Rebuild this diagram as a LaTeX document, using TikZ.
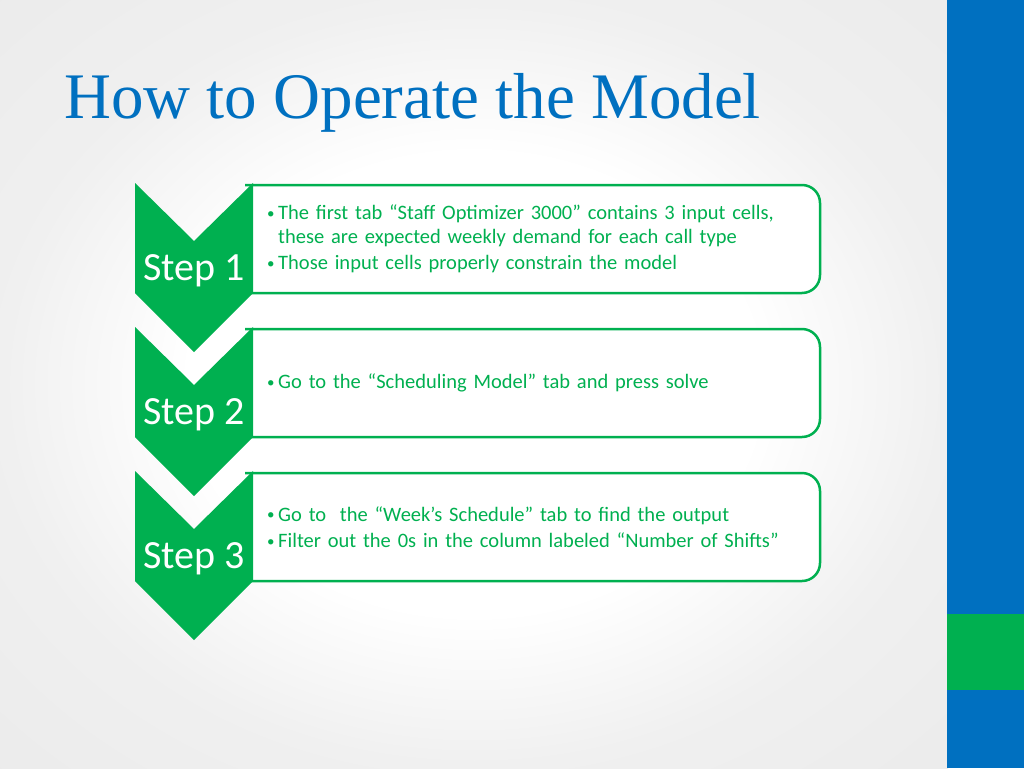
\documentclass[tikz,border=0pt]{standalone}
\usepackage{fontspec}
\setmainfont{Carlito}
\newfontfamily\titlefont{Liberation Serif}
\usepackage{tikz}

\definecolor{stepgreen}{RGB}{0,176,80}
\definecolor{themeblue}{RGB}{0,112,192}

% bullet line with hanging indent
\newcommand{\bitem}[1]{\noindent\hangindent=11pt\hangafter=1\makebox[11pt][l]{\fontsize{15}{15}\selectfont\raisebox{1.5pt}{•}}#1\par}

\pgfdeclareradialshading{slideglow}{\pgfpoint{0bp}{0bp}}{%
  color(0bp)=(white); color(15bp)=(white); color(25bp)=(black!6); color(50bp)=(black!10)}

\tikzset{
  chevron/.style={fill=stepgreen, draw=none},
  bodybox/.style={fill=white, draw=stepgreen, line width=2.5pt, rounded corners=18pt},
  steplabel/.style={text=white, font=\fontsize{40}{48}\selectfont, anchor=base, inner sep=0pt},
  bodytext/.style={text=stepgreen, font=\fontsize{20.5}{23.5}\selectfont, text width=560pt, anchor=west, inner sep=0pt}
}

\begin{document}
\begin{tikzpicture}[x=1pt, y=-1pt]
    \useasboundingbox (0,0) rectangle (1024,768);

    % slide background and side stripe
    \shade[shading=slideglow] (0,0) rectangle (948,768);
    \fill[themeblue] (947,0) rectangle (1024,768);
    \fill[stepgreen] (947,614) rectangle (1024,690);

    % title
    \node[anchor=base west, inner sep=0pt, text=themeblue, font=\titlefont\fontsize{65}{78}\selectfont] (title) at (64,118) {How to Operate the Model};

    % text boxes first (left edges sit under the chevrons)
    \filldraw[bodybox] (245,185) -- (820,185) -- (820,293) -- (245,293);
    \filldraw[bodybox] (245,329) -- (820,329) -- (820,437) -- (245,437);
    \filldraw[bodybox] (245,473) -- (820,473) -- (820,581) -- (245,581);

    % chevrons
    \fill[chevron] (135,183) -- (194,241) -- (253,183) -- (253,293) -- (194,352) -- (135,293) -- cycle;
    \fill[chevron] (135,327) -- (194,385) -- (253,327) -- (253,437) -- (194,496) -- (135,437) -- cycle;
    \fill[chevron] (135,471) -- (194,529) -- (253,471) -- (253,581) -- (194,640) -- (135,581) -- cycle;

    % step labels
    \node[steplabel] (step1) at (194,280) {Step 1};
    \node[steplabel] (step2) at (194,424) {Step 2};
    \node[steplabel] (step3) at (194,568) {Step 3};

    % bullet texts
    \node[bodytext] (body1) at (267,239) {\setlength{\parskip}{3pt}%
      \bitem{The first tab “Staff Optimizer 3000” contains 3 input cells,\newline these are expected weekly demand for each call type}%
      \bitem{Those input cells properly constrain the model}};
    \node[bodytext] (body2) at (267,383) {\bitem{Go to the “Scheduling Model” tab and press solve}};
    \node[bodytext] (body3) at (267,527) {\setlength{\parskip}{3pt}%
      \bitem{Go to\ \ the “Week’s Schedule” tab to find the output}%
      \bitem{Filter out the 0s in the column labeled “Number of Shifts”}};
\end{tikzpicture}
\end{document}
